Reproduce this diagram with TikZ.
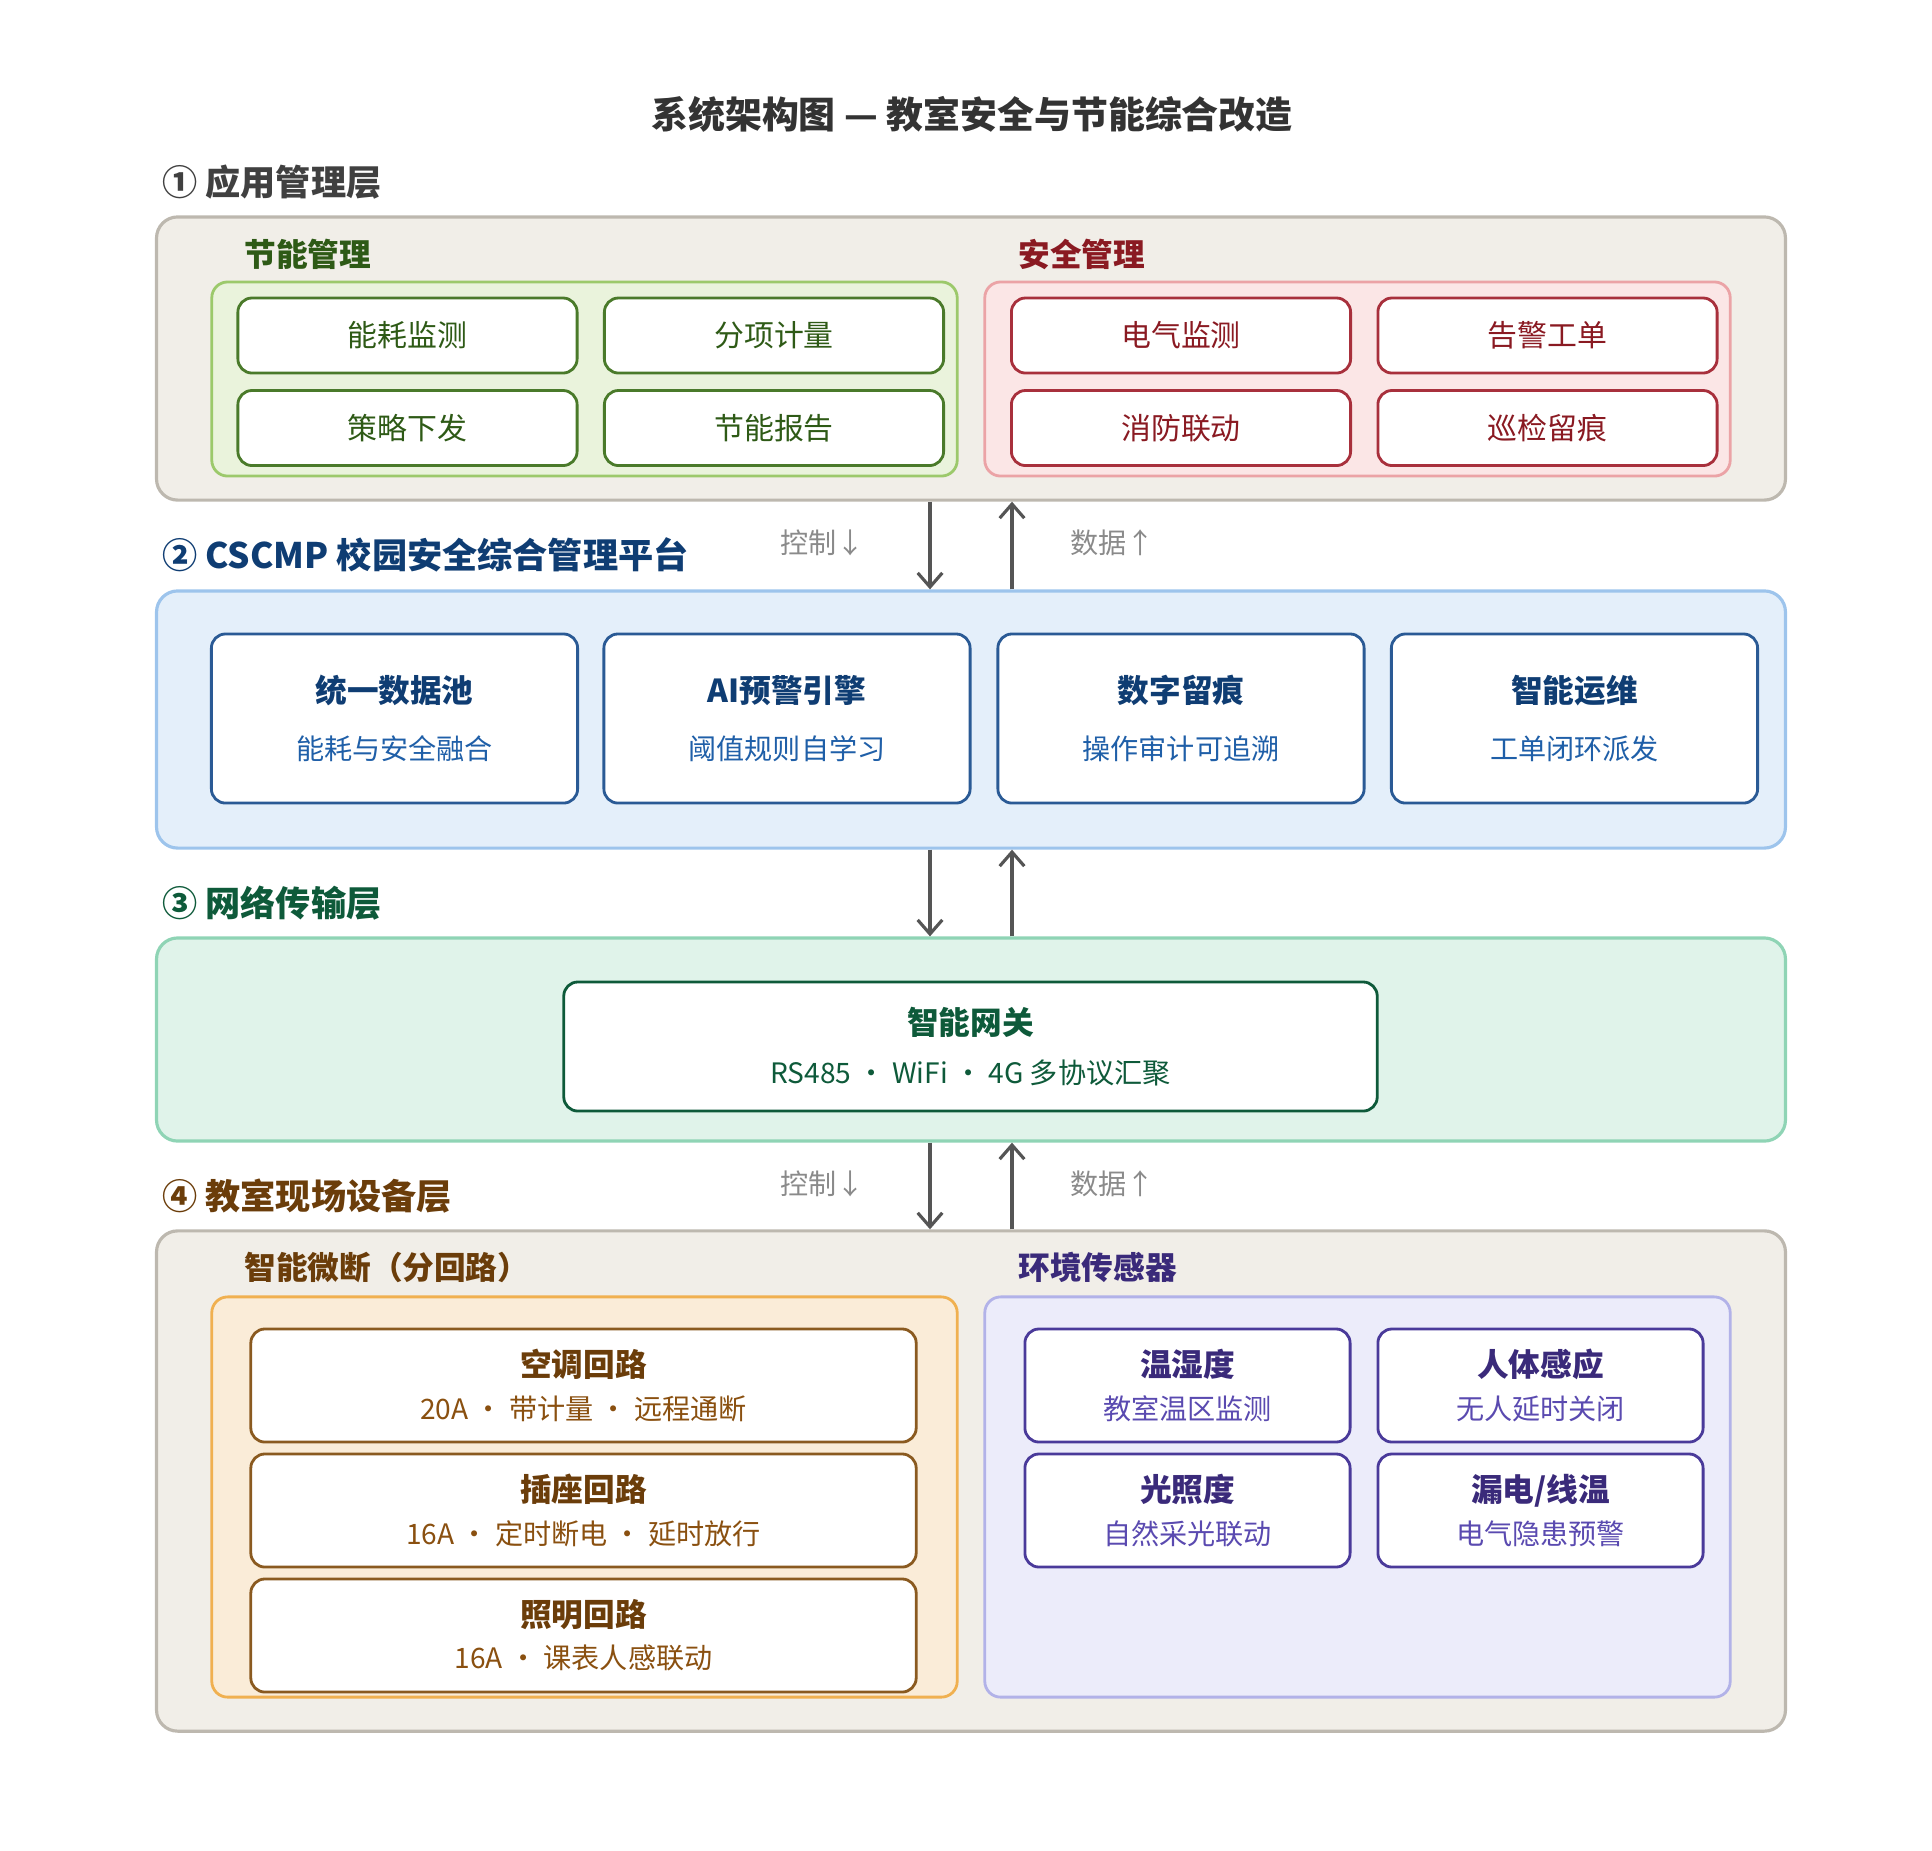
\documentclass[tikz,border=0pt]{standalone}
\usepackage{fontspec}
\setmainfont{Noto Sans CJK SC}
\usetikzlibrary{arrows.meta}
\usetikzlibrary{positioning}

\definecolor{outerfill}{HTML}{F1EEE8}\definecolor{outerline}{HTML}{BDB8AF}
\definecolor{grtext}{HTML}{2E5A16}\definecolor{grfill}{HTML}{EAF3DC}\definecolor{grline}{HTML}{9CC96B}\definecolor{grbox}{HTML}{4A7A2A}
\definecolor{rdtext}{HTML}{8A1A22}\definecolor{rdfill}{HTML}{FBE6E6}\definecolor{rdline}{HTML}{EBA3A6}\definecolor{rdbox}{HTML}{A8303C}
\definecolor{bltext}{HTML}{0F3D73}\definecolor{blsub}{HTML}{1F5FA8}\definecolor{blfill}{HTML}{E4EFFA}\definecolor{blline}{HTML}{9DC4EC}\definecolor{blbox}{HTML}{2A5A95}
\definecolor{tltext}{HTML}{0E5A3A}\definecolor{tlfill}{HTML}{E0F3EA}\definecolor{tlline}{HTML}{8FD4B5}
\definecolor{brtext}{HTML}{6B3D0A}\definecolor{brsub}{HTML}{8A5010}\definecolor{brfill}{HTML}{FAECD8}\definecolor{brline}{HTML}{F0B050}\definecolor{brbox}{HTML}{8A5A20}
\definecolor{putext}{HTML}{3A2A7A}\definecolor{pusub}{HTML}{5A4AB0}\definecolor{pufill}{HTML}{ECECFA}\definecolor{puline}{HTML}{B2B2E8}\definecolor{pubox}{HTML}{4A3A9A}
\definecolor{arrowgray}{HTML}{555555}\definecolor{labelgray}{HTML}{8A8A8A}

\tikzset{
  panel/.style={draw, rounded corners=6pt, line width=0.9pt, inner sep=0},
  group/.style={draw, rounded corners=4.5pt, line width=0.8pt, inner sep=0},
  card/.style={draw, fill=white, rounded corners=4pt, line width=0.8pt, inner sep=0, align=center},
  layerlabel/.style={anchor=west, font=\fontsize{10}{12}\selectfont\bfseries},
  grouplabel/.style={anchor=west, font=\fontsize{9}{11}\selectfont\bfseries},
  flow/.style={draw=arrowgray, line width=0.9pt, -{Straight Barb[length=4pt,width=7pt]}},
  flowlabel/.style={text=labelgray, font=\fontsize{8}{10}\selectfont},
}

\begin{document}
\begin{tikzpicture}[x=0.01cm, y=-0.01cm]
  \useasboundingbox (0,0) rectangle (1932,1850);

  \node[font=\fontsize{10.5}{12}\selectfont\bfseries, text=black!80] (title) at (972,114) {系统架构图 — 教室安全与节能综合改造};

  % layer 1
  \node[layerlabel, text=black!75] (l1) at (150,182) {① 应用管理层};
  \node[panel, fill=outerfill, draw=outerline, minimum width=16.28cm, minimum height=2.83cm] (app) at (971,358.5) {};
  \node[group, fill=grfill, draw=grline, minimum width=7.45cm, minimum height=1.94cm] (energy) at (584.5,379) {};
  \node[grouplabel, text=grtext] at (232,254) {节能管理};
  \node[group, fill=rdfill, draw=rdline, minimum width=7.45cm, minimum height=1.94cm] (safety) at (1357.5,379) {};
  \node[grouplabel, text=rdtext] at (1006,254) {安全管理};
  \foreach \t/\x/\y in {能耗监测/407.5/335.5, 分项计量/774/335.5, 策略下发/407.5/428, 节能报告/774/428}
    \node[card, draw=grbox, text=grtext, minimum width=3.39cm, minimum height=0.75cm, font=\fontsize{8.5}{10}\selectfont] at (\x,\y) {\t};
  \foreach \t/\x/\y in {电气监测/1181/335.5, 告警工单/1547.5/335.5, 消防联动/1181/428, 巡检留痕/1547.5/428}
    \node[card, draw=rdbox, text=rdtext, minimum width=3.39cm, minimum height=0.75cm, font=\fontsize{8.5}{10}\selectfont] at (\x,\y) {\t};

  % layer 2
  \node[layerlabel, text=bltext] (l2) at (150,555) {② CSCMP 校园安全综合管理平台};
  \node[panel, fill=blfill, draw=blline, minimum width=16.28cm, minimum height=2.57cm] (platform) at (971,719.5) {};
  \foreach \n/\t/\s/\x in {pool/统一数据池/能耗与安全融合/394.5, ai/AI预警引擎/阈值规则自学习/787, trace/数字留痕/操作审计可追溯/1181, ops/智能运维/工单闭环派发/1574.5}
    \node[card, draw=blbox, minimum width=3.66cm, minimum height=1.69cm] (\n) at (\x,718.5)
      {\fontsize{9}{11}\selectfont\bfseries\color{bltext}\t\\[4pt]\fontsize{8}{10}\selectfont\color{blsub}\s};

  % layer 3
  \node[layerlabel, text=tltext] (l3) at (150,903) {③ 网络传输层};
  \node[panel, fill=tlfill, draw=tlline, minimum width=16.28cm, minimum height=2.03cm] (network) at (971,1039.5) {};
  \node[card, draw=tltext, minimum width=8.13cm, minimum height=1.29cm] (gw) at (970.5,1046.5)
    {\fontsize{9}{11}\selectfont\bfseries\color{tltext}智能网关\\[2pt]\fontsize{8}{10}\selectfont\color{tltext}RS485 ・ WiFi ・ 4G 多协议汇聚};

  % layer 4
  \node[layerlabel, text=brtext] (l4) at (150,1196) {④ 教室现场设备层};
  \node[panel, fill=outerfill, draw=outerline, minimum width=16.28cm, minimum height=5cm] (field) at (971,1481) {};
  \node[group, fill=brfill, draw=brline, minimum width=7.45cm, minimum height=4cm] (breaker) at (584.5,1497) {};
  \node[grouplabel, text=brtext] at (232,1267) {智能微断（分回路）};
  \node[group, fill=pufill, draw=puline, minimum width=7.45cm, minimum height=4cm] (sensor) at (1357.5,1497) {};
  \node[grouplabel, text=putext] at (1006,1267) {环境传感器};
  \foreach \t/\s/\y in {空调回路/20A ・ 带计量 ・ 远程通断/1385.5, 插座回路/16A ・ 定时断电 ・ 延时放行/1510.5, 照明回路/16A ・ 课表人感联动/1635.5}
    \node[card, draw=brbox, minimum width=6.65cm, minimum height=1.13cm] at (583.5,\y)
      {\fontsize{9}{11}\selectfont\bfseries\color{brtext}\t\\[0pt]\fontsize{8}{10}\selectfont\color{brsub}\s};
  \foreach \t/\s/\x/\y in {温湿度/教室温区监测/1187.5/1385.5, 人体感应/无人延时关闭/1540.5/1385.5, 光照度/自然采光联动/1187.5/1510.5, {漏电/线温}/电气隐患预警/1540.5/1510.5}
    \node[card, draw=pubox, minimum width=3.25cm, minimum height=1.13cm] at (\x,\y)
      {\fontsize{9}{11}\selectfont\bfseries\color{putext}\t\\[0pt]\fontsize{8}{10}\selectfont\color{pusub}\s};

  % connectors
  \coordinate (down) at (930,0);
  \coordinate (up) at (1012,0);
  \draw[flow] (app.south -| down) -- (platform.north -| down);
  \draw[flow] (platform.north -| up) -- (app.south -| up);
  \draw[flow] (platform.south -| down) -- (network.north -| down);
  \draw[flow] (network.north -| up) -- (platform.south -| up);
  \draw[flow] (network.south -| down) -- (field.north -| down);
  \draw[flow] (field.north -| up) -- (network.south -| up);
  \node[flowlabel, left=15pt of app.south -| down, yshift=-0.41cm] {控制↓};
  \node[flowlabel, right=13pt of app.south -| up, yshift=-0.41cm] {数据↑};
  \node[flowlabel, left=15pt of network.south -| down, yshift=-0.41cm] {控制↓};
  \node[flowlabel, right=13pt of network.south -| up, yshift=-0.41cm] {数据↑};
\end{tikzpicture}
\end{document}
